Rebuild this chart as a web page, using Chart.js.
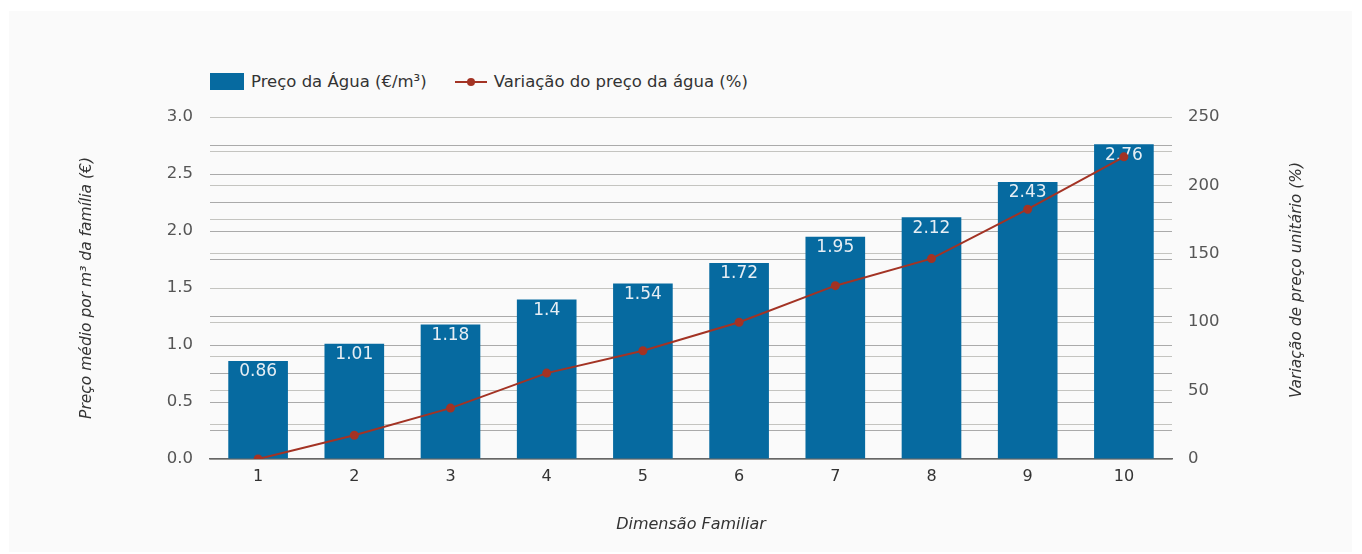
<!DOCTYPE html>
<html>
<head>
<meta charset="utf-8">
<script src="https://cdn.jsdelivr.net/npm/chart.js@4.4.1/dist/chart.umd.min.js"></script>
<style>
    html, body { margin: 0; padding: 0; background: #ffffff; }
    #panel { position: absolute; left: 9px; top: 11px; width: 1343px; height: 541px; background: #fafafa; }
    #wrap { position: absolute; left: 0; top: 0; width: 1362px; height: 554px; }
    #legend { position: absolute; left: 210px; top: 72px; display: flex; align-items: center;
        font-family: "DejaVu Sans", sans-serif; font-size: 16.5px; color: #333; }
    .item { display: flex; align-items: center; margin-right: 28px; }
    .box { width: 34px; height: 17px; background: #066aa0; margin-right: 7px; }
    .ln { position: relative; width: 32px; height: 2px; background: #a33324; margin-right: 7px; }
    .ln::after { content: ""; position: absolute; left: 12px; top: -3px; width: 8px; height: 8px; border-radius: 50%; background: #a33324; }
</style>
</head>
<body>
<div id="panel"></div>
<div id="legend">
    <div class="item"><span class="box"></span>Preço da Água (€/m³)</div>
    <div class="item"><span class="ln"></span>Variação do preço da água (%)</div>
</div>
<div id="wrap"><canvas id="chart" width="1362" height="554"></canvas></div>
<script>
// data
const familySizes = ['1', '2', '3', '4', '5', '6', '7', '8', '9', '10'];
const waterPrice = [0.86, 1.01, 1.18, 1.4, 1.54, 1.72, 1.95, 2.12, 2.43, 2.76];
const priceChange = [0, 17.4, 37.2, 62.8, 79.1, 100, 126.7, 146.5, 182.6, 220.9];

const fontFamily = '"DejaVu Sans", sans-serif';
const barColor = '#066aa0';
const lineColor = '#a33324';

// value labels inside the top of each bar
const barLabels = {
    id: 'barLabels',
    afterDatasetDraw(chart, args) {
        if (args.index !== 0) return;
        const ctx = chart.ctx;
        ctx.save();
        ctx.font = '17px ' + fontFamily;
        ctx.fillStyle = '#e6eef4';
        ctx.textAlign = 'center';
        ctx.textBaseline = 'middle';
        args.meta.data.forEach((bar, i) => {
            ctx.fillText(String(waterPrice[i]), bar.x, bar.y + 11);
        });
        ctx.restore();
    }
};

// right axis title reads bottom to top
const rightTitle = {
    id: 'rightTitle',
    afterDraw(chart) {
        const ctx = chart.ctx;
        const area = chart.chartArea;
        ctx.save();
        ctx.translate(1297, (area.top + area.bottom) / 2 - 8);
        ctx.rotate(-Math.PI / 2);
        ctx.font = 'italic 15.5px ' + fontFamily;
        ctx.fillStyle = '#333';
        ctx.textAlign = 'center';
        ctx.textBaseline = 'middle';
        ctx.fillText('Variação de preço unitário (%)', 0, 0);
        ctx.restore();
    }
};

const ctx = document.getElementById('chart').getContext('2d');
const chart = new Chart(ctx, {
    data: {
        labels: familySizes,
        datasets: [{
            type: 'bar',
            label: 'Preço da Água (€/m³)',
            data: waterPrice,
            yAxisID: 'y',
            backgroundColor: barColor,
            barPercentage: 0.62,
            categoryPercentage: 1,
            order: 1
        }, {
            type: 'line',
            label: 'Variação do preço da água (%)',
            data: priceChange,
            yAxisID: 'y1',
            borderColor: lineColor,
            backgroundColor: lineColor,
            borderWidth: 2,
            pointRadius: 3.5,
            tension: 0,
            order: 0
        }]
    },
    options: {
        responsive: false,
        animation: false,
        layout: { padding: { top: 117, left: 0, right: 0, bottom: 0 } },
        plugins: {
            legend: { display: false },
            tooltip: { enabled: false }
        },
        scales: {
            x: {
                grid: { display: false, drawTicks: false },
                border: { color: '#666', width: 1.5 },
                ticks: { color: '#333', font: { family: fontFamily, size: 16 }, padding: 8 },
                title: {
                    display: true, text: 'Dimensão Familiar', color: '#333',
                    font: { family: fontFamily, size: 16, style: 'italic' },
                    padding: { bottom: 20 }
                },
                afterFit(scale) { scale.height = 95; }
            },
            y: {
                position: 'left',
                min: 0, max: 3,
                ticks: {
                    stepSize: 0.25,
                    color: '#555',
                    font: { family: fontFamily, size: 16.5 },
                    padding: 17,
                    callback: v => (Math.round(v * 100) % 50 === 0 ? v.toFixed(1) : '')
                },
                grid: { color: '#aaaaaa', drawTicks: false },
                border: { display: false },
                title: {
                    display: true, text: 'Preço médio por m³ da família (€)', color: '#333',
                    font: { family: fontFamily, size: 15.5, style: 'italic' },
                    padding: { top: 78 }
                },
                afterFit(scale) { scale.width = 210; }
            },
            y1: {
                position: 'right',
                min: 0, max: 250,
                ticks: {
                    stepSize: 25,
                    color: '#555',
                    font: { family: fontFamily, size: 16.5 },
                    padding: 16,
                    callback: v => (v % 50 === 0 ? v : '')
                },
                grid: { color: '#c4c4c0', drawTicks: false },
                border: { display: false },
                afterFit(scale) { scale.width = 190; }
            }
        }
    },
    plugins: [barLabels, rightTitle]
});
</script>
</body>
</html>
